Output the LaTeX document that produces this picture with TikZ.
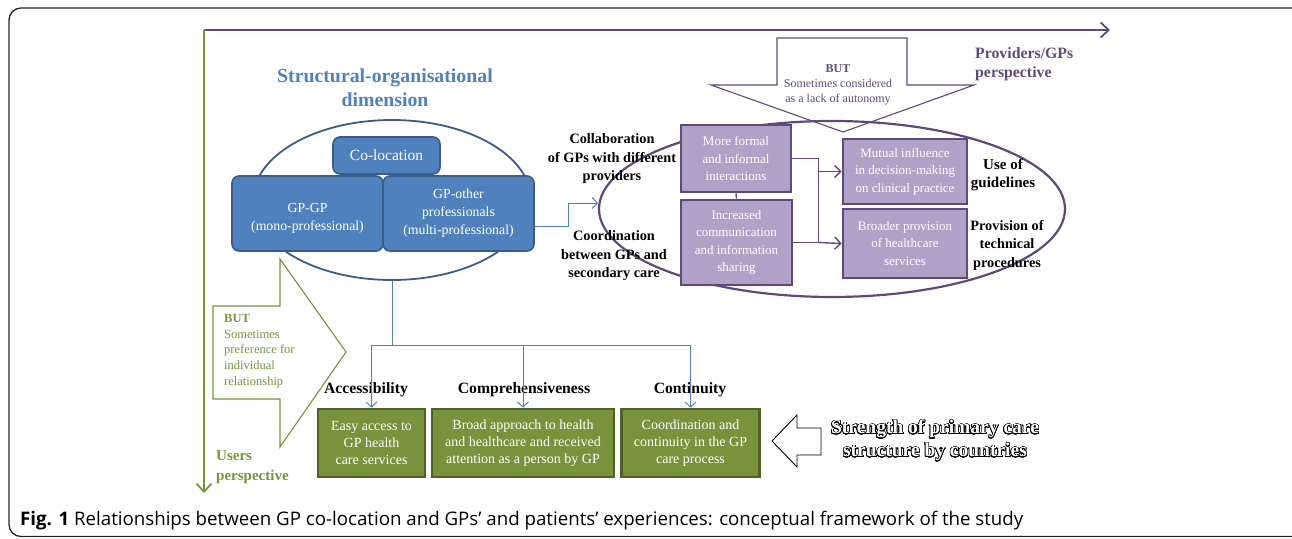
\documentclass[tikz,border=0pt]{standalone}
\usepackage{fontspec}
\setmainfont{Liberation Serif}
\newfontfamily\capfont{Open Sans}
\usepackage[copies]{contour}
\usetikzlibrary{arrows.meta, shapes, positioning, calc}
\contourlength{0.6pt}
\contournumber{32}
\definecolor{strblue}{RGB}{79,129,189}
\definecolor{strdark}{RGB}{56,93,138}
\definecolor{usrgreen}{RGB}{119,147,60}
\definecolor{usrdark}{RGB}{79,98,40}
\definecolor{provpurple}{RGB}{96,73,122}
\definecolor{provfill}{RGB}{178,161,199}

\begin{document}
\begin{tikzpicture}[x=1pt, y=-1pt,
	every node/.style = {align=center, inner sep=0pt},
	bluebox/.style = {draw=strdark, fill=strblue, line width=1.6pt, rounded corners=7pt,
		text=white, font=\fontsize{13.8}{18}\selectfont},
	greenbox/.style = {draw=usrdark, fill=usrgreen, line width=2.6pt,
		text=white, font=\fontsize{14}{17}\selectfont},
	purpbox/.style = {draw=provpurple, fill=provfill, line width=2.6pt,
		text=white, font=\fontsize{13}{17.5}\selectfont},
	lbl/.style = {font=\fontsize{14.3}{18.5}\selectfont\bfseries},
	sublbl/.style = {font=\fontsize{15.7}{19}\selectfont\bfseries},
	bluelink/.style = {draw=strblue, line width=1pt},
	bluearrow/.style = {bluelink, -{Straight Barb[length=5pt, width=11pt]}},
	purplink/.style = {draw=provpurple, line width=1.4pt},
	purparrow/.style = {purplink, -{Straight Barb[length=6pt, width=12pt]}}]
	\useasboundingbox (0,0) rectangle (1292,538);
	\draw[line width=1.3pt, rounded corners=12pt, black!85] (9,8) rectangle (1310,536.5);

	% perspectives
	\coordinate (origin) at (204,30);
	\draw[provpurple, line width=1.8pt, -{Straight Barb[length=8pt, width=15pt]}] (origin) -- (1110,30);
	\draw[usrgreen, line width=1.8pt, -{Straight Barb[length=8pt, width=15pt]}] (origin) -- (204,493);
	\node[anchor=north west, align=left, text=provpurple, font=\fontsize{15.8}{19}\selectfont\bfseries]
		(provtitle) at (975,47) {Providers/GPs\\perspective};
	\node[anchor=north west, align=left, text=usrgreen, font=\fontsize{15}{20}\selectfont\bfseries]
		(usrtitle) at (216,450) {Users\\perspective};

	% structural-organisational dimension
	\node[text=strblue, font=\fontsize{19.8}{24}\selectfont\bfseries] (strtitle) at (385,88)
		{Structural-organisational\\dimension};
	\node[ellipse, draw=strdark, line width=1.8pt, minimum width=278pt, minimum height=160pt]
		(structell) at (392,200) {};
	\node[bluebox, minimum width=107pt, minimum height=37pt, font=\fontsize{15.5}{18}\selectfont]
		(coloc) at (386.5,155.5) {Co-location};
	\node[bluebox, minimum width=151pt, minimum height=75pt] (gpgp) at (307.5,213.5)
		{\rule{0pt}{18pt}GP-GP\\(mono-professional)};
	\node[bluebox, minimum width=151pt, minimum height=75pt] (gpother) at (458.5,213.5)
		{GP-other\\professionals\\(multi-professional)};

	% users side
	\draw[usrgreen, line width=1.1pt, fill=white] (213,306) -- (280,306) -- (280,259) -- (346,352)
		-- (280,447) -- (280,399) -- (213,399) -- cycle;
	\node[anchor=north west, align=left, text=usrgreen, font=\fontsize{12.5}{15.7}\selectfont]
		(usrbut) at (224,314) {\textbf{BUT}\\Sometimes\\preference for\\individual\\relationship};
	\node[greenbox, minimum width=107pt, minimum height=68pt] (easy) at (371.5,443)
		{Easy access to\\GP health\\care services};
	\node[greenbox, minimum width=182pt, minimum height=68pt] (broad) at (523,443)
		{Broad approach to health\\and healthcare and received\\attention as a person by GP};
	\node[greenbox, minimum width=138pt, minimum height=68pt] (cont) at (690.5,443)
		{Coordination and\\continuity in the GP\\care process};
	\node[sublbl] (access) at (366,390) {Accessibility};
	\node[sublbl] (compre) at (524,390) {Comprehensiveness};
	\node[sublbl] (contin) at (690,390) {Continuity};
	\coordinate (split) at (392,345);
	\draw[bluelink] (structell.south) -- (split);
	\draw[bluearrow] (split) -| (easy.north);
	\draw[bluearrow] (split) -| (broad.north);
	\draw[bluearrow] (split) -| (cont.north);

	% strength of primary care
	\draw[line width=0.9pt, fill=white] (821,428) -- (797,428) -- (797,415) -- (772,441)
		-- (797,467) -- (797,455) -- (821,455) -- cycle;
	\node[font=\fontsize{19.5}{23}\selectfont\bfseries, text=white] (strength) at (935,441)
		{\contour{black}{Strength of primary care}\\\contour{black}{structure by countries}};

	% providers side
	\draw[provpurple, line width=1.1pt] (777,38) -- (907,38) -- (907,85) -- (974,85) -- (843,132)
		-- (711,85) -- (777,85) -- cycle;
	\node[text=provpurple, font=\fontsize{12}{15}\selectfont] (provbut) at (838,85)
		{\textbf{BUT}\\Sometimes considered\\as a lack of autonomy};
	\node[ellipse, draw=provpurple, line width=2.2pt, minimum width=466pt, minimum height=176pt]
		(provell) at (832,209) {};
	\draw[bluearrow] ([yshift=-13pt]gpother.east) -- ++(34,0) |- ([yshift=6pt]provell.west);
	\node[lbl] (collab) at (612,159) {Collaboration\\of GPs with different\\providers};
	\node[lbl] (coord) at (614,256) {Coordination\\between GPs and\\secondary care};
	\node[purpbox, minimum width=110pt, minimum height=67pt] (formal) at (736,158.5)
		{More formal\\and informal\\interactions};
	\node[purpbox, minimum width=111pt, minimum height=85pt] (commun) at (736.5,242.5)
		{Increased\\communication\\and information\\sharing};
	\node[purpbox, minimum width=124pt, minimum height=65pt] (mutual) at (905,171.5)
		{Mutual influence\\in decision-making\\on clinical practice};
	\node[purpbox, minimum width=124pt, minimum height=69pt] (broader) at (905,243.5)
		{Broader provision\\of healthcare\\services};
	\draw[purplink] (formal.south) -- (commun.north);
	\draw[purplink] (formal.east) -| ([xshift=25pt]commun.east) -- (commun.east);
	\draw[purparrow] ([xshift=26pt]formal.east |- mutual.west) -- (mutual.west);
	\draw[purparrow] ([xshift=25pt]commun.east) -- (broader.west);
	\node[lbl, font=\fontsize{15}{18.5}\selectfont\bfseries] (guide) at (1003,175) {Use of\\guidelines};
	\node[lbl] (techn) at (1007,245) {Provision of\\technical\\procedures};

	% caption
	\node[anchor=base west, font=\capfont\fontsize{18.7}{22}\selectfont] (caption) at (20,525)
		{\textbf{Fig. 1} Relationships between GP co-location and GPs’ and patients’ experiences: conceptual framework of the study};
\end{tikzpicture}
\end{document}
